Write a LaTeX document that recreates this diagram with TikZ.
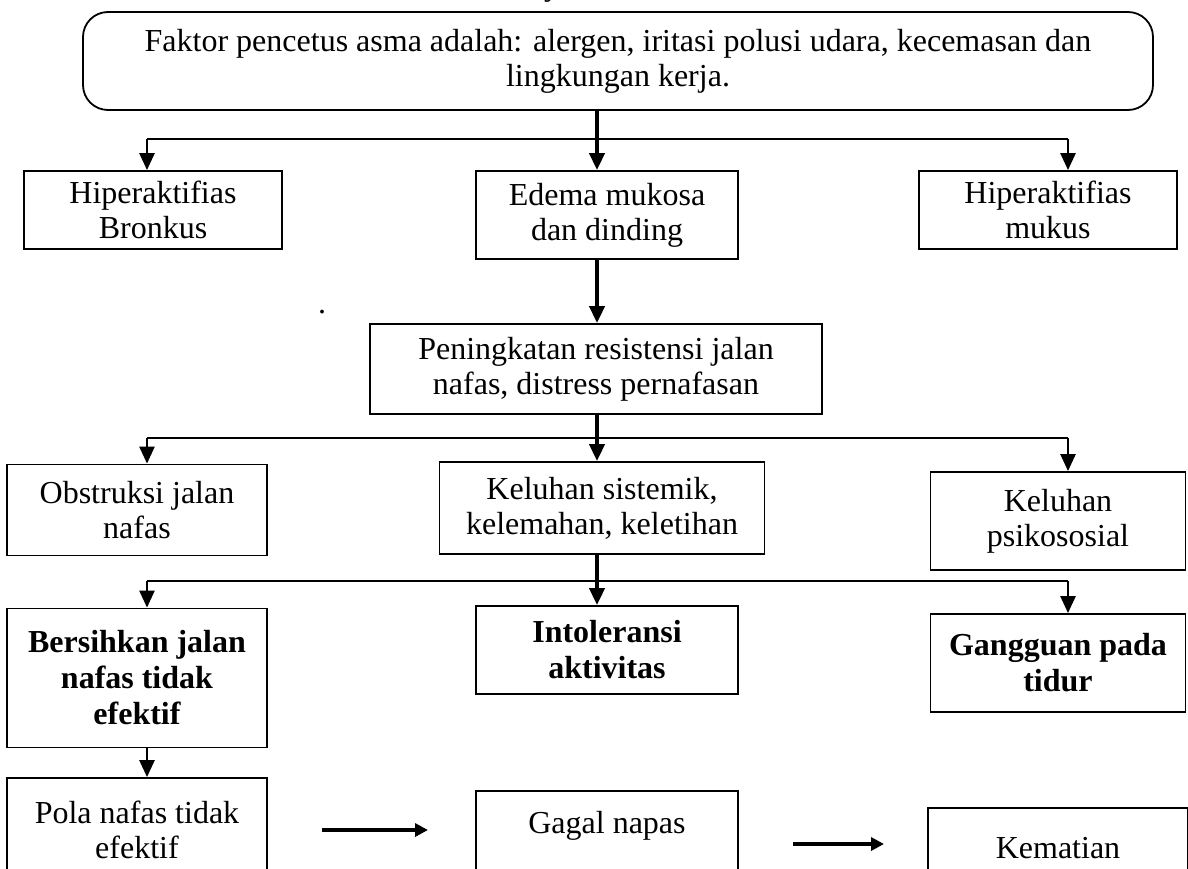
\documentclass[tikz,border=0pt]{standalone}
\usepackage{fontspec}
\setmainfont{Liberation Serif}
\usetikzlibrary{arrows.meta}
\begin{document}
\begin{tikzpicture}[x=1pt,y=-1pt,
  box/.style={draw,line width=1.8pt,rectangle,inner sep=0pt,align=center,font=\fontsize{32}{35}\selectfont},
  bbox/.style={box,font=\fontsize{32}{36}\selectfont\bfseries},
  conn/.style={line width=2.5pt,-{Triangle[width=15pt,length=17pt]}},
  trunk/.style={line width=4pt,-{Triangle[width=15pt,length=17pt]}},
  busline/.style={line width=2.5pt},
  harr/.style={line width=4pt,-{Triangle[width=13pt,length=13pt]}},
  plain/.style={font=\fontsize{32}{35}\selectfont,inner sep=0pt}
]
\useasboundingbox (0,0) rectangle (1188,869);

% stray text fragments
\node[plain,anchor=base] (ytop) at (552,-4) {y};
\node[plain,anchor=base] (dot) at (322,313) {.};

% top box
\node[box,rounded corners=25pt,minimum width=1070pt,minimum height=98pt] (top) at (618,61)
  {Faktor pencetus asma adalah: alergen, iritasi polusi udara, kecemasan dan\\lingkungan kerja.};

% row 1
\node[box,minimum width=258pt,minimum height=78pt] (hb) at (153,210) {Hiperaktifias\\Bronkus};
\node[box,minimum width=262pt,minimum height=88pt] (edema) at (607,215) {Edema mukosa\\dan dinding};
\node[box,minimum width=258pt,minimum height=78pt] (hm) at (1048,210) {Hiperaktifias\\mukus};

% row 2
\node[box,minimum width=452pt,minimum height=90pt] (pen) at (596,369) {Peningkatan resistensi jalan\\nafas, distress pernafasan};

% row 3
\node[box,minimum width=260pt,minimum height=91pt] (obs) at (137,510) {Obstruksi jalan\\nafas};
\node[box,minimum width=325pt,minimum height=92pt] (ks) at (602,508) {Keluhan sistemik,\\kelemahan, keletihan};
\node[box,minimum width=255pt,minimum height=98pt] (kp) at (1058,521) {Keluhan\\psikososial};

% row 4 (bold)
\node[bbox,minimum width=260pt,minimum height=139pt] (ber) at (137,678) {Bersihkan jalan\\nafas tidak\\efektif};
\node[bbox,minimum width=262pt,minimum height=88pt] (int) at (607,650) {Intoleransi\\aktivitas};
\node[bbox,minimum width=255pt,minimum height=98pt] (gan) at (1058,663) {Gangguan pada\\tidur};

% row 5 (cut at bottom)
\node[box,minimum width=260pt,minimum height=104pt] (pola) at (137,830) {Pola nafas tidak\\efektif};
\node[box,minimum width=262pt,text height=43pt,text depth=55pt,anchor=north] (gagal) at (607,790) {Gagal napas};
\node[box,minimum width=260pt,minimum height=80pt] (kem) at (1058,848) {Kematian};

% reference columns
\coordinate (lx) at (147,0);
\coordinate (mx) at (597,0);
\coordinate (rx) at (1068,0);

% bus 1
\coordinate (b1) at (597,139);
\draw[trunk] (top.south -| mx) -- (edema.north -| mx);
\draw[busline] (b1 -| lx) -- (b1 -| rx);
\draw[conn] (b1 -| lx) -- (hb.north -| lx);
\draw[conn] (b1 -| rx) -- (hm.north -| rx);

% edema -> peningkatan
\draw[trunk] (edema.south -| mx) -- (pen.north -| mx);

% bus 2
\coordinate (b2) at (597,438);
\draw[trunk] (pen.south -| mx) -- (ks.north -| mx);
\draw[busline] (b2 -| lx) -- (b2 -| rx);
\draw[conn] (b2 -| lx) -- (obs.north -| lx);
\draw[conn] (b2 -| rx) -- (kp.north -| rx);

% bus 3
\coordinate (b3) at (597,581);
\draw[trunk] (ks.south -| mx) -- (int.north -| mx);
\draw[busline] (b3 -| lx) -- (b3 -| rx);
\draw[conn] (b3 -| lx) -- (ber.north -| lx);
\draw[conn] (b3 -| rx) -- (gan.north -| rx);

% bersihkan -> pola
\draw[conn] (ber.south -| lx) -- (pola.north -| lx);

% bottom horizontal arrows
\coordinate (a1s) at (322,830);
\coordinate (a1e) at (428,830);
\coordinate (a2s) at (793,844);
\coordinate (a2e) at (884,844);
\draw[harr] (a1s) -- (a1e);
\draw[harr] (a2s) -- (a2e);
\end{tikzpicture}
\end{document}
